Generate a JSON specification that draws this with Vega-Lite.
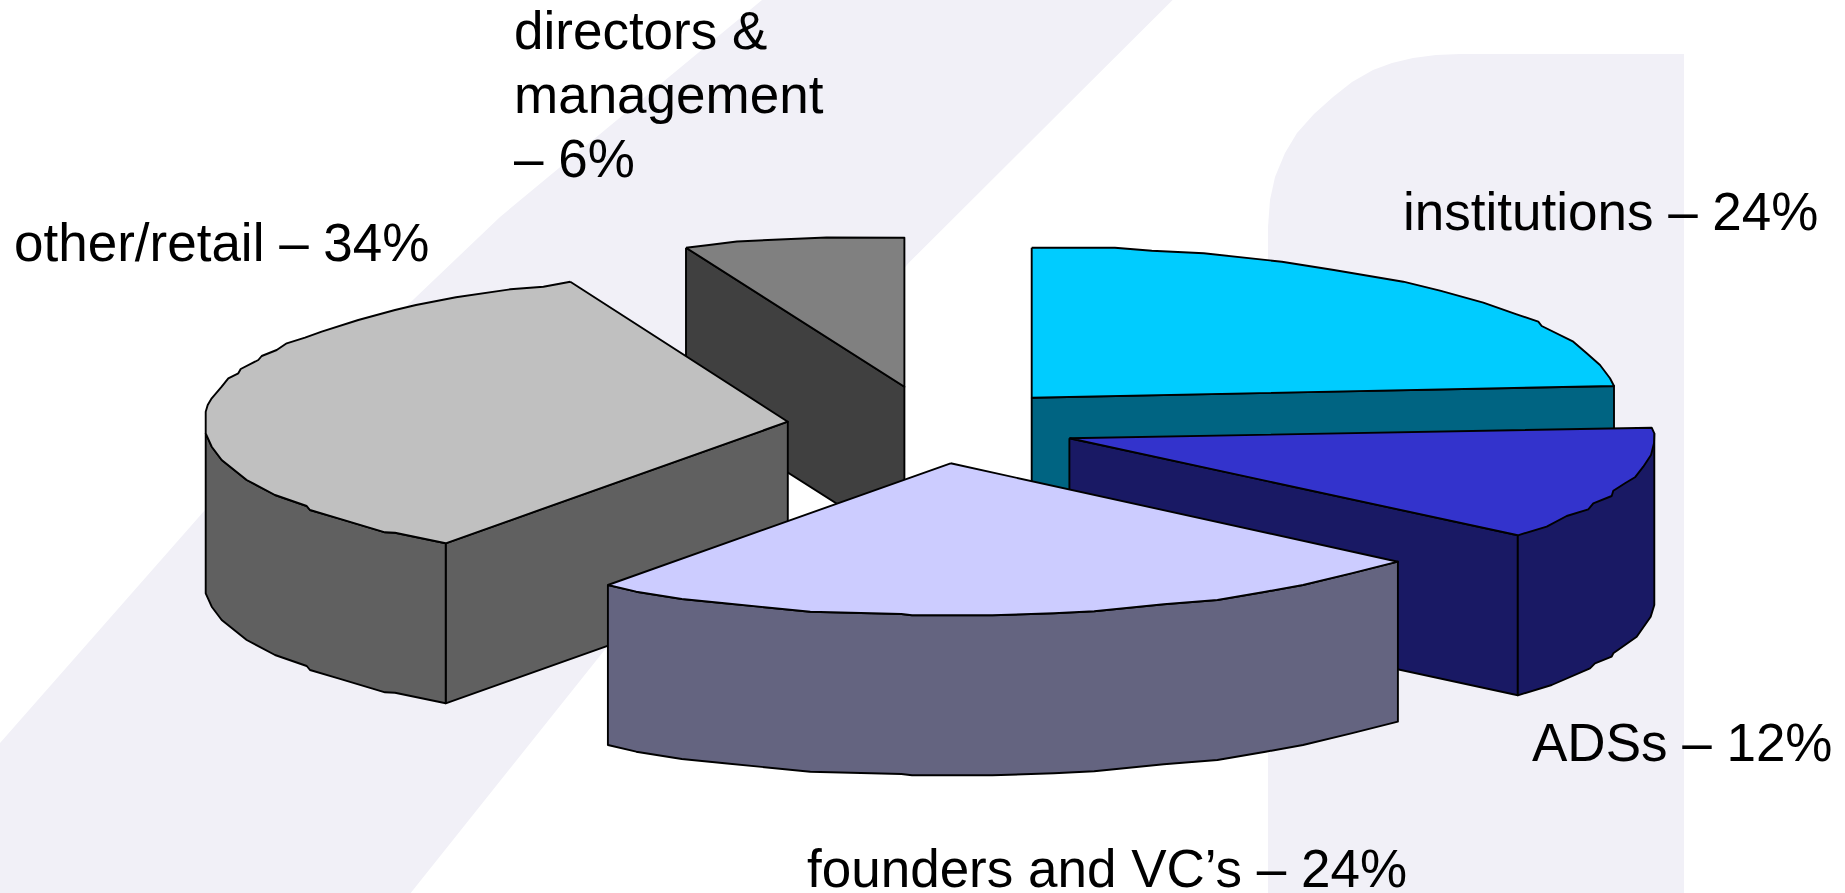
{"$schema":"https://vega.github.io/schema/vega-lite/v6.json","width":1845,"height":893,"autosize":{"type":"none"},"padding":0,"background":"#ffffff","view":{"stroke":null},
"layer":[
{"data":{"values":[
{"s":"band","n":1,"x":762,"y":0},{"s":"band","n":2,"x":1172.6,"y":0},{"s":"band","n":3,"x":908.6,"y":263},{"s":"band","n":4,"x":760,"y":447},{"s":"band","n":5,"x":607,"y":647},{"s":"band","n":6,"x":410.7,"y":893},{"s":"band","n":7,"x":0,"y":893},{"s":"band","n":8,"x":0,"y":743},{"s":"band","n":9,"x":205,"y":510},{"s":"band","n":10,"x":350,"y":360},{"s":"band","n":11,"x":500,"y":217},
{"s":"arch","n":1,"x":1268,"y":893},{"s":"arch","n":2,"x":1268,"y":227},{"s":"arch","n":3,"x":1270,"y":200},{"s":"arch","n":4,"x":1275,"y":177},{"s":"arch","n":5,"x":1285,"y":153},{"s":"arch","n":6,"x":1297,"y":133},{"s":"arch","n":7,"x":1314,"y":114},{"s":"arch","n":8,"x":1333,"y":97},{"s":"arch","n":9,"x":1352,"y":82},{"s":"arch","n":10,"x":1373,"y":70},{"s":"arch","n":11,"x":1392,"y":63},{"s":"arch","n":12,"x":1413,"y":58},{"s":"arch","n":13,"x":1436,"y":55},{"s":"arch","n":14,"x":1460,"y":54},{"s":"arch","n":15,"x":1684,"y":54},{"s":"arch","n":16,"x":1684,"y":893}
]},
"mark":{"type":"line","filled":true,"fill":"#f1f0f7","stroke":null,"strokeWidth":0,"interpolate":"linear"},
"encoding":{"x":{"field":"x","type":"quantitative","scale":{"domain":[0,1845],"nice":false,"zero":false},"axis":null},"y":{"field":"y","type":"quantitative","scale":{"domain":[893,0],"nice":false,"zero":false},"axis":null},"detail":{"field":"s"},"order":{"field":"n","type":"quantitative"}}},
{"data":{"values":[
{"s":"dir_side","n":1,"x":686,"y":247.7},{"s":"dir_side","n":2,"x":904.4,"y":386.7},{"s":"dir_side","n":3,"x":904.4,"y":546.7},{"s":"dir_side","n":4,"x":686,"y":407.7},{"s":"dir_side","n":5,"x":686,"y":247.7},
{"s":"dir_top","n":1,"x":686,"y":247.7},{"s":"dir_top","n":2,"x":709,"y":245},{"s":"dir_top","n":3,"x":736.9,"y":241.5},{"s":"dir_top","n":4,"x":779.3,"y":239.5},{"s":"dir_top","n":5,"x":826.5,"y":237.5},{"s":"dir_top","n":6,"x":904.4,"y":237.7},{"s":"dir_top","n":7,"x":904.4,"y":386.7},{"s":"dir_top","n":8,"x":686,"y":247.7},
{"s":"inst_side","n":1,"x":1031.7,"y":397.7},{"s":"inst_side","n":2,"x":1614,"y":386},{"s":"inst_side","n":3,"x":1614,"y":546},{"s":"inst_side","n":4,"x":1031.7,"y":557.7},{"s":"inst_side","n":5,"x":1031.7,"y":397.7},
{"s":"inst_top","n":1,"x":1031.7,"y":247.7},{"s":"inst_top","n":2,"x":1114.9,"y":247.7},{"s":"inst_top","n":3,"x":1151.8,"y":250.7},{"s":"inst_top","n":4,"x":1203.8,"y":253.3},{"s":"inst_top","n":5,"x":1281.9,"y":261.7},{"s":"inst_top","n":6,"x":1333.9,"y":270},{"s":"inst_top","n":7,"x":1403.3,"y":281.7},{"s":"inst_top","n":8,"x":1440,"y":290.7},{"s":"inst_top","n":9,"x":1483.3,"y":302.7},{"s":"inst_top","n":10,"x":1516.7,"y":314.3},{"s":"inst_top","n":11,"x":1538.3,"y":321.7},{"s":"inst_top","n":12,"x":1541.7,"y":326},{"s":"inst_top","n":13,"x":1573.3,"y":341.7},{"s":"inst_top","n":14,"x":1586.7,"y":353.3},{"s":"inst_top","n":15,"x":1600,"y":365},{"s":"inst_top","n":16,"x":1610,"y":378.3},{"s":"inst_top","n":17,"x":1614,"y":386},{"s":"inst_top","n":18,"x":1031.7,"y":397.7},{"s":"inst_top","n":19,"x":1031.7,"y":247.7},
{"s":"ads_face","n":1,"x":1069.4,"y":438.3},{"s":"ads_face","n":2,"x":1517.8,"y":535.3},{"s":"ads_face","n":3,"x":1517.8,"y":695.3},{"s":"ads_face","n":4,"x":1069.4,"y":598.3},{"s":"ads_face","n":5,"x":1069.4,"y":438.3},
{"s":"ads_rim","n":1,"x":1654.3,"y":433.3},{"s":"ads_rim","n":2,"x":1654.3,"y":605},{"s":"ads_rim","n":3,"x":1650.7,"y":616.7},{"s":"ads_rim","n":4,"x":1636.7,"y":636.7},{"s":"ads_rim","n":5,"x":1625,"y":645},{"s":"ads_rim","n":6,"x":1613.3,"y":653.3},{"s":"ads_rim","n":7,"x":1611.7,"y":656.7},{"s":"ads_rim","n":8,"x":1595,"y":663.3},{"s":"ads_rim","n":9,"x":1590,"y":668.3},{"s":"ads_rim","n":10,"x":1551.7,"y":685},{"s":"ads_rim","n":11,"x":1517.8,"y":695.3},{"s":"ads_rim","n":12,"x":1517.8,"y":535.3},{"s":"ads_rim","n":13,"x":1654.3,"y":433.3},
{"s":"ads_top","n":1,"x":1069.4,"y":438.3},{"s":"ads_top","n":2,"x":1651.7,"y":427.7},{"s":"ads_top","n":3,"x":1654.3,"y":433.3},{"s":"ads_top","n":4,"x":1654,"y":443.3},{"s":"ads_top","n":5,"x":1651,"y":455},{"s":"ads_top","n":6,"x":1643.3,"y":466.7},{"s":"ads_top","n":7,"x":1635,"y":477.3},{"s":"ads_top","n":8,"x":1625,"y":483.3},{"s":"ads_top","n":9,"x":1613.3,"y":490.7},{"s":"ads_top","n":10,"x":1611.7,"y":496},{"s":"ads_top","n":11,"x":1593.3,"y":503.3},{"s":"ads_top","n":12,"x":1588.3,"y":509.3},{"s":"ads_top","n":13,"x":1566.7,"y":516},{"s":"ads_top","n":14,"x":1546.7,"y":526.7},{"s":"ads_top","n":15,"x":1517.8,"y":535.3},{"s":"ads_top","n":16,"x":1069.4,"y":438.3},
{"s":"oth_face","n":1,"x":445.7,"y":543.3},{"s":"oth_face","n":2,"x":787.8,"y":421.7},{"s":"oth_face","n":3,"x":787.8,"y":581.7},{"s":"oth_face","n":4,"x":445.7,"y":703.3},{"s":"oth_face","n":5,"x":445.7,"y":543.3},
{"s":"oth_rim","n":1,"x":205.7,"y":433.3},{"s":"oth_rim","n":2,"x":211.7,"y":446.7},{"s":"oth_rim","n":3,"x":221.7,"y":460},{"s":"oth_rim","n":4,"x":246.7,"y":480},{"s":"oth_rim","n":5,"x":275,"y":495},{"s":"oth_rim","n":6,"x":306.7,"y":506},{"s":"oth_rim","n":7,"x":310,"y":510},{"s":"oth_rim","n":8,"x":338.3,"y":518.3},{"s":"oth_rim","n":9,"x":371.7,"y":528.3},{"s":"oth_rim","n":10,"x":385,"y":532.3},{"s":"oth_rim","n":11,"x":395,"y":532.7},{"s":"oth_rim","n":12,"x":445.7,"y":543.3},{"s":"oth_rim","n":13,"x":445.7,"y":703.3},{"s":"oth_rim","n":14,"x":395,"y":692.7},{"s":"oth_rim","n":15,"x":385,"y":692.3},{"s":"oth_rim","n":16,"x":371.7,"y":688.3},{"s":"oth_rim","n":17,"x":338.3,"y":678.3},{"s":"oth_rim","n":18,"x":310,"y":670},{"s":"oth_rim","n":19,"x":306.7,"y":666},{"s":"oth_rim","n":20,"x":275,"y":655},{"s":"oth_rim","n":21,"x":246.7,"y":640},{"s":"oth_rim","n":22,"x":221.7,"y":620},{"s":"oth_rim","n":23,"x":211.7,"y":606.7},{"s":"oth_rim","n":24,"x":205.7,"y":593.3},{"s":"oth_rim","n":25,"x":205.7,"y":433.3},
{"s":"oth_top","n":1,"x":570.3,"y":281.7},{"s":"oth_top","n":2,"x":787.8,"y":421.7},{"s":"oth_top","n":3,"x":445.7,"y":543.3},{"s":"oth_top","n":4,"x":395,"y":532.7},{"s":"oth_top","n":5,"x":385,"y":532.3},{"s":"oth_top","n":6,"x":371.7,"y":528.3},{"s":"oth_top","n":7,"x":338.3,"y":518.3},{"s":"oth_top","n":8,"x":310,"y":510},{"s":"oth_top","n":9,"x":306.7,"y":506},{"s":"oth_top","n":10,"x":275,"y":495},{"s":"oth_top","n":11,"x":246.7,"y":480},{"s":"oth_top","n":12,"x":221.7,"y":460},{"s":"oth_top","n":13,"x":211.7,"y":446.7},{"s":"oth_top","n":14,"x":205.7,"y":433.3},{"s":"oth_top","n":15,"x":205.7,"y":411.7},{"s":"oth_top","n":16,"x":207.7,"y":405},{"s":"oth_top","n":17,"x":211.7,"y":398.3},{"s":"oth_top","n":18,"x":221.7,"y":386.7},{"s":"oth_top","n":19,"x":228.3,"y":378.3},{"s":"oth_top","n":20,"x":238.3,"y":373.3},{"s":"oth_top","n":21,"x":240.7,"y":369},{"s":"oth_top","n":22,"x":258.3,"y":360},{"s":"oth_top","n":23,"x":261.7,"y":356},{"s":"oth_top","n":24,"x":276.7,"y":350},{"s":"oth_top","n":25,"x":286.7,"y":343.3},{"s":"oth_top","n":26,"x":305,"y":337.7},{"s":"oth_top","n":27,"x":321.7,"y":331.7},{"s":"oth_top","n":28,"x":358.3,"y":320},{"s":"oth_top","n":29,"x":395,"y":310},{"s":"oth_top","n":30,"x":416,"y":305},{"s":"oth_top","n":31,"x":456,"y":297.3},{"s":"oth_top","n":32,"x":510.3,"y":289.3},{"s":"oth_top","n":33,"x":543.4,"y":286.7},{"s":"oth_top","n":34,"x":570.3,"y":281.7},
{"s":"fou_rim","n":1,"x":607.9,"y":585},{"s":"fou_rim","n":2,"x":636.2,"y":591.7},{"s":"fou_rim","n":3,"x":681.8,"y":599},{"s":"fou_rim","n":4,"x":724.6,"y":603.3},{"s":"fou_rim","n":5,"x":810.3,"y":611.7},{"s":"fou_rim","n":6,"x":901.4,"y":614},{"s":"fou_rim","n":7,"x":912,"y":615.3},{"s":"fou_rim","n":8,"x":992.4,"y":615.3},{"s":"fou_rim","n":9,"x":1054,"y":613.3},{"s":"fou_rim","n":10,"x":1094.2,"y":611.3},{"s":"fou_rim","n":11,"x":1163.8,"y":604.3},{"s":"fou_rim","n":12,"x":1217.4,"y":600},{"s":"fou_rim","n":13,"x":1265.6,"y":591.7},{"s":"fou_rim","n":14,"x":1303,"y":585},{"s":"fou_rim","n":15,"x":1351.3,"y":573.3},{"s":"fou_rim","n":16,"x":1397.9,"y":561.7},{"s":"fou_rim","n":17,"x":1397.9,"y":721.7},{"s":"fou_rim","n":18,"x":1351.3,"y":733.3},{"s":"fou_rim","n":19,"x":1303,"y":745},{"s":"fou_rim","n":20,"x":1265.6,"y":751.7},{"s":"fou_rim","n":21,"x":1217.4,"y":760},{"s":"fou_rim","n":22,"x":1163.8,"y":764.3},{"s":"fou_rim","n":23,"x":1094.2,"y":771.3},{"s":"fou_rim","n":24,"x":1054,"y":773.3},{"s":"fou_rim","n":25,"x":992.4,"y":775.3},{"s":"fou_rim","n":26,"x":912,"y":775.3},{"s":"fou_rim","n":27,"x":901.4,"y":774},{"s":"fou_rim","n":28,"x":810.3,"y":771.7},{"s":"fou_rim","n":29,"x":724.6,"y":763.3},{"s":"fou_rim","n":30,"x":681.8,"y":759},{"s":"fou_rim","n":31,"x":636.2,"y":751.7},{"s":"fou_rim","n":32,"x":607.9,"y":745},{"s":"fou_rim","n":33,"x":607.9,"y":585},
{"s":"fou_top","n":1,"x":950.6,"y":463.3},{"s":"fou_top","n":2,"x":1397.9,"y":561.7},{"s":"fou_top","n":3,"x":1351.3,"y":573.3},{"s":"fou_top","n":4,"x":1303,"y":585},{"s":"fou_top","n":5,"x":1265.6,"y":591.7},{"s":"fou_top","n":6,"x":1217.4,"y":600},{"s":"fou_top","n":7,"x":1163.8,"y":604.3},{"s":"fou_top","n":8,"x":1094.2,"y":611.3},{"s":"fou_top","n":9,"x":1054,"y":613.3},{"s":"fou_top","n":10,"x":992.4,"y":615.3},{"s":"fou_top","n":11,"x":912,"y":615.3},{"s":"fou_top","n":12,"x":901.4,"y":614},{"s":"fou_top","n":13,"x":810.3,"y":611.7},{"s":"fou_top","n":14,"x":724.6,"y":603.3},{"s":"fou_top","n":15,"x":681.8,"y":599},{"s":"fou_top","n":16,"x":636.2,"y":591.7},{"s":"fou_top","n":17,"x":607.9,"y":585},{"s":"fou_top","n":18,"x":950.6,"y":463.3}
]},
"mark":{"type":"line","filled":true,"stroke":"#000000","strokeWidth":1.9,"strokeJoin":"round","interpolate":"linear"},
"encoding":{"x":{"field":"x","type":"quantitative","scale":{"domain":[0,1845],"nice":false,"zero":false},"axis":null},"y":{"field":"y","type":"quantitative","scale":{"domain":[893,0],"nice":false,"zero":false},"axis":null},"detail":{"field":"s"},"order":{"field":"n","type":"quantitative"},
"fill":{"field":"s","type":"nominal","legend":null,"scale":{"domain":["dir_side","dir_top","inst_side","inst_top","ads_face","ads_rim","ads_top","oth_face","oth_rim","oth_top","fou_rim","fou_top"],"range":["#404040","#808080","#006482","#00ccff","#191964","#191964","#3333cc","#606060","#606060","#c0c0c0","#646480","#ccccff"]}}}},
{"data":{"values":[
{"label":"directors &","x":514,"y":49},{"label":"management","x":514,"y":113},{"label":"– 6%","x":514,"y":177},{"label":"other/retail – 34%","x":14,"y":261},{"label":"institutions – 24%","x":1403,"y":230},{"label":"ADSs – 12%","x":1532,"y":761},{"label":"founders and VC’s – 24%","x":807,"y":887}
]},
"mark":{"type":"text","font":"Liberation Sans","fontSize":53,"align":"left","baseline":"alphabetic","color":"#000000"},
"encoding":{"x":{"field":"x","type":"quantitative","scale":{"domain":[0,1845],"nice":false,"zero":false},"axis":null},"y":{"field":"y","type":"quantitative","scale":{"domain":[893,0],"nice":false,"zero":false},"axis":null},"text":{"field":"label"}}}
]}
